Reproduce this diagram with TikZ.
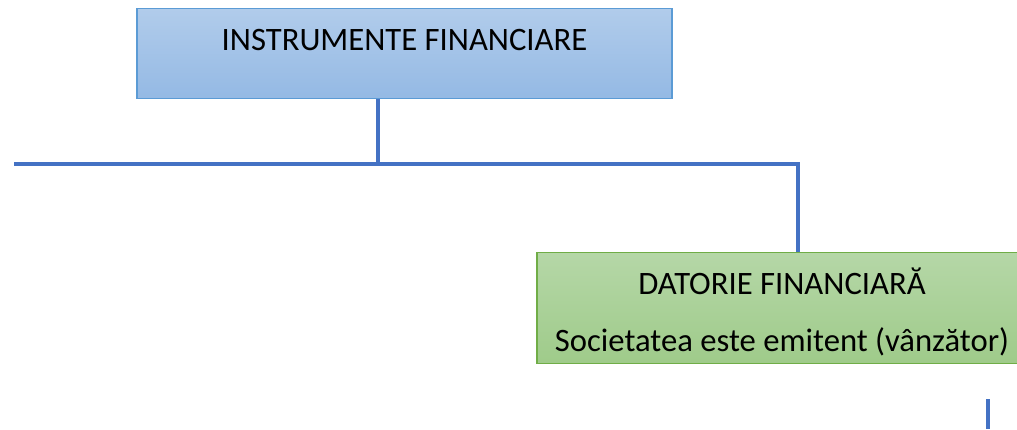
\documentclass[tikz,border=0pt]{standalone}
\usepackage{fontspec}
\setmainfont{Carlito}
\usepackage{tikz}
\usetikzlibrary{calc}

\definecolor{boxblueT}{HTML}{B1CCEB}
\definecolor{boxblueB}{HTML}{94B9E4}
\definecolor{boxblueD}{HTML}{5B9BD5}
\definecolor{boxgreenT}{HTML}{B5D7A7}
\definecolor{boxgreenB}{HTML}{9FCB8A}
\definecolor{boxgreenD}{HTML}{70AD47}
\definecolor{linkblue}{HTML}{4472C4}

\begin{document}
\begin{tikzpicture}[x=1bp,y=1bp]
    \fontsize{32.8}{57}\selectfont

    \tikzset{LN/.style={draw=linkblue,line width=3.2bp}}
    \tikzset{BB/.style={draw=boxblueD,line width=1.2bp,top color=boxblueT,bottom color=boxblueB,inner sep=0pt,align=center}}
    \tikzset{GB/.style={draw=boxgreenD,line width=1.2bp,top color=boxgreenT,bottom color=boxgreenB,inner sep=0pt,align=center}}

    \useasboundingbox (0,0) rectangle (1017,429);

    \node (instr) [BB,minimum width=535bp,text height=42bp,text depth=48bp,anchor=north] at (404.5,421) {INSTRUMENTE FINANCIARE};
    	\coordinate (left) at (14,265);
    	\coordinate (tap) at (378,265);
    	\coordinate (drop) at (798,265);
    		\node (datorie) [GB,minimum width=490bp,text height=99bp,text depth=12bp,anchor=north] at (782,177) {DATORIE FINANCIARĂ\\Societatea este emitent (vânzător)};
    			\coordinate (stubtop) at (988,30);
    			\coordinate (stubbot) at (988,0);

    \path[LN] (instr.south -| tap) -- (tap);
    \path[LN] (left) -- (drop) -- (drop |- datorie.north);
    \path[LN] (stubtop) -- (stubbot);
\end{tikzpicture}
\end{document}
